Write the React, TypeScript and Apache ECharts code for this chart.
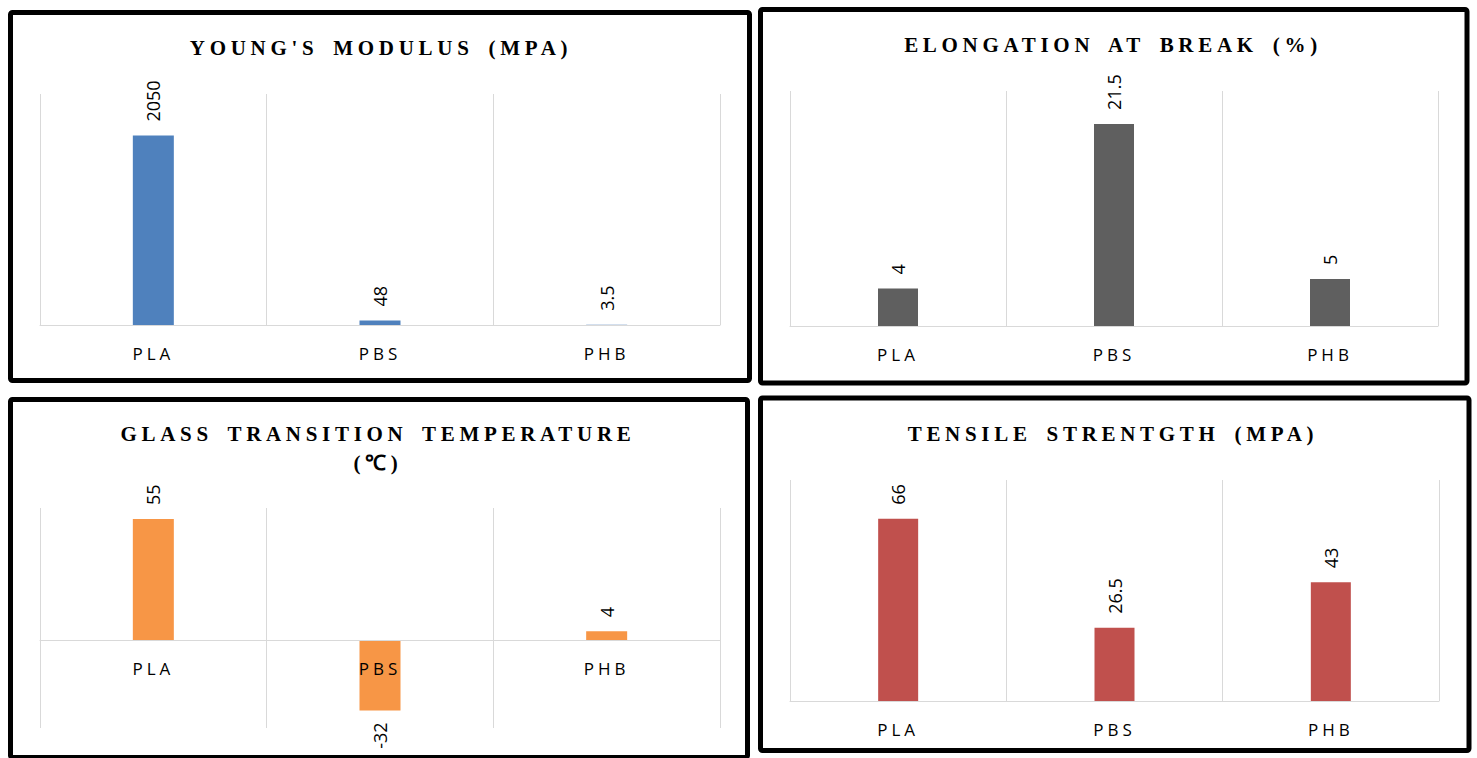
import React, { useEffect, useRef } from 'react';
import * as echarts from 'echarts';

// ---- data ----
const categories = ['PLA', 'PBS', 'PHB'];
const youngsModulus = [2050, 48, 3.5];
const elongationAtBreak = [4, 21.5, 5];
const glassTransition = [55, -32, 4];
const tensileStrength = [66, 26.5, 43];

const titles = [
  "YOUNG'S MODULUS (MPA)",
  'ELONGATION AT BREAK (%)',
  'GLASS TRANSITION TEMPERATURE\n(℃)',
  'TENSILE STRENTGTH (MPA)',
];
const yMins = [0, 0, -40, 0];
const yMaxs = [2500, 25, 60, 80];
const seriesValues = [youngsModulus, elongationAtBreak, glassTransition, tensileStrength];

// ---- styling / layout ----
const colors = ['#4F81BD', '#5F5F5F', '#F79646', '#C0504D'];
const grids = [
  { left: 40, top: 94, width: 680, height: 231 },
  { left: 790, top: 91, width: 648, height: 235 },
  { left: 40, top: 508, width: 680, height: 220 },
  { left: 790, top: 480, width: 649, height: 221 },
];
const barWidths = [41, 40, 41, 40];
const titlePos = [
  { x: 381, top: 33.5 },
  { x: 1113, top: 30 },
  { x: 378, top: 419 },
  { x: 1113, top: 419.5 },
];
const borders = [
  { x: 10.5, y: 12.5, width: 739, height: 368 },
  { x: 760.5, y: 9.5, width: 706.5, height: 373.5 },
  { x: 10.5, y: 399.5, width: 737, height: 358 },
  { x: 760.5, y: 398, width: 708.5, height: 352.5 },
];

const css = `
text[style*="Liberation Serif"] { letter-spacing: 4.7px; word-spacing: 5px; }
text[style*="sans-serif"] { letter-spacing: 4px; }
`;

export default function App() {
  const ref = useRef<HTMLDivElement>(null);
  useEffect(() => {
    if (!ref.current) return;
    const chart = echarts.init(ref.current, undefined, { renderer: 'svg' });
    const option: any = {
      animation: false,
      backgroundColor: '#ffffff',
      title: titles.map((t, i) => ({
        text: t,
        left: titlePos[i].x,
        top: titlePos[i].top,
        textAlign: 'center',
        padding: 0,
        textStyle: {
          fontFamily: 'Liberation Serif',
          fontWeight: 'bold',
          fontSize: 21,
          color: '#000000',
          lineHeight: 29,
        },
      })),
      grid: grids.map((g) => ({ ...g, containLabel: false })),
      xAxis: grids.map((g, i) => {
        // axis (line + labels) sits at value 0 of the value axis
        const zeroOffset = yMins[i] < 0 ? -(g.height * (0 - yMins[i])) / (yMaxs[i] - yMins[i]) : 0;
        return {
          type: 'category',
          gridIndex: i,
          data: categories,
          boundaryGap: true,
          offset: zeroOffset,
          z: 5,
          axisTick: { show: false },
          axisLine: { show: true, onZero: false, lineStyle: { color: '#d9d9d9', width: 1 } },
          splitLine: { show: true, interval: 0, lineStyle: { color: '#d9d9d9', width: 1 } },
          axisLabel: {
            margin: 20,
            interval: 0,
            fontFamily: 'Open Sans, sans-serif',
            fontSize: 17,
            color: '#000000',
          },
        };
      }),
      yAxis: grids.map((_, i) => ({
        type: 'value',
        gridIndex: i,
        min: yMins[i],
        max: yMaxs[i],
        show: false,
        splitLine: { show: false },
      })),
      series: seriesValues.map((vals, i) => ({
        type: 'bar',
        xAxisIndex: i,
        yAxisIndex: i,
        barWidth: barWidths[i],
        z: 2,
        itemStyle: { color: colors[i] },
        label: {
          show: true,
          position: 'top',
          distance: 14,
          rotate: 90,
          align: 'left',
          verticalAlign: 'middle',
          fontFamily: 'Open Sans',
          fontSize: 18,
          color: '#000000',
        },
        data: vals.map((v) =>
          v < 0
            ? { value: v, label: { position: 'bottom', align: 'right', distance: 12 } }
            : v
        ),
      })),
      graphic: borders.map((b) => ({
        type: 'rect',
        shape: { x: b.x, y: b.y, width: b.width, height: b.height, r: 2 },
        style: { fill: 'none', stroke: '#000000', lineWidth: 5 },
        z: 100,
      })),
    };
    chart.setOption(option);
    return () => chart.dispose();
  }, []);
  return (
    <>
      <style>{css}</style>
      <div
        ref={ref}
        style={{ position: 'absolute', left: 0, top: 0, width: 1477, height: 758 }}
      />
    </>
  );
}
